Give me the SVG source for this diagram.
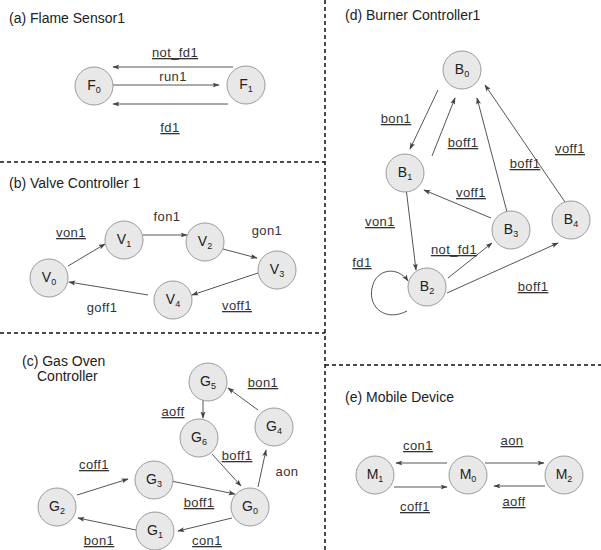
<svg xmlns="http://www.w3.org/2000/svg" width="601" height="550" viewBox="0 0 601 550">
<defs>
<style>
text{font-family:"Liberation Sans",Arial,sans-serif;fill:#222}
.title{font-size:14px}
.lbl{font-size:13px;text-anchor:middle;letter-spacing:0.4px;fill:#333}
.u{text-decoration:underline}
.nl{font-size:14px;text-anchor:middle}
.sub{font-size:9px}
.node circle{fill:#e8e8e8;stroke:#9a9a9a;stroke-width:1}
.e{stroke:#555;stroke-width:1;fill:none;marker-end:url(#ah)}
.div{stroke:#111;stroke-width:1.5;stroke-dasharray:4 3;fill:none}
</style>
<marker id="ah" viewBox="0 0 10 10" refX="9" refY="5" markerWidth="7" markerHeight="7" orient="auto" markerUnits="userSpaceOnUse">
<path d="M0,1.5 L10,5 L0,8.5 L2,5 Z" fill="#444"/>
</marker>
</defs>
<rect width="601" height="550" fill="#fff"/>

<g id="dividers">
<line class="div" x1="325" y1="0" x2="325" y2="550"/>
<line class="div" x1="0" y1="162" x2="325" y2="162"/>
<line class="div" x1="0" y1="333" x2="325" y2="333"/>
<line class="div" x1="325" y1="365" x2="601" y2="365"/>
</g>

<g id="titles">
<text class="title" x="9" y="23">(a) Flame Sensor1</text>
<text class="title" x="9" y="188">(b) Valve Controller 1</text>
<text class="title" x="22" y="366">(c) Gas Oven</text>
<text class="title" x="37" y="381">Controller</text>
<text class="title" x="345" y="20">(d) Burner Controller1</text>
<text class="title" x="345" y="402">(e) Mobile Device</text>
</g>

<g id="connectors">
<!-- (a) -->
<line class="e" x1="233" y1="67" x2="113" y2="67"/>
<line class="e" x1="113" y1="85" x2="219" y2="85"/>
<line class="e" x1="228" y1="104" x2="113" y2="104"/>
<!-- (b) -->
<line class="e" x1="68" y1="266" x2="105" y2="244"/>
<line class="e" x1="143" y1="235" x2="187" y2="235"/>
<line class="e" x1="223" y1="249" x2="257" y2="258"/>
<line class="e" x1="258" y1="273" x2="192" y2="295"/>
<line class="e" x1="148" y1="295" x2="69" y2="282"/>
<!-- (c) -->
<line class="e" x1="203" y1="399" x2="203" y2="418"/>
<line class="e" x1="258" y1="410" x2="228" y2="388"/>
<line class="e" x1="212" y1="454" x2="241" y2="486"/>
<line class="e" x1="258" y1="487" x2="266" y2="450"/>
<line class="e" x1="171" y1="481" x2="235" y2="494"/>
<line class="e" x1="77" y1="495" x2="128" y2="479"/>
<line class="e" x1="232" y1="518" x2="178" y2="531"/>
<line class="e" x1="136" y1="530" x2="78" y2="518"/>
<!-- (d) -->
<line class="e" x1="438" y1="90" x2="410" y2="149"/>
<line class="e" x1="432" y1="156" x2="455" y2="98"/>
<line class="e" x1="406" y1="188" x2="416" y2="270"/>
<line class="e" x1="491" y1="218" x2="424" y2="190"/>
<line class="e" x1="507" y1="212" x2="477" y2="98"/>
<line class="e" x1="567" y1="205" x2="485" y2="85"/>
<line class="e" x1="448" y1="278" x2="492" y2="243"/>
<line class="e" x1="447" y1="293" x2="558" y2="243"/>
<path class="e" d="M407,311 C386,322 368,308 372,288 C376,268 398,266 408,281"/>
<!-- (e) -->
<line class="e" x1="447" y1="463" x2="396" y2="463"/>
<line class="e" x1="394" y1="487" x2="447" y2="487"/>
<line class="e" x1="485" y1="463" x2="544" y2="463"/>
<line class="e" x1="545" y1="486" x2="494" y2="486"/>
</g>

<g id="edge-labels">
<text class="lbl u" x="175" y="57">not_fd1</text>
<text class="lbl" x="173" y="81">run1</text>
<text class="lbl u" x="170" y="132">fd1</text>

<text class="lbl u" x="71" y="237">von1</text>
<text class="lbl" x="167" y="221">fon1</text>
<text class="lbl" x="267" y="235">gon1</text>
<text class="lbl u" x="237" y="310">voff1</text>
<text class="lbl" x="102" y="312">goff1</text>

<text class="lbl u" x="263" y="387">bon1</text>
<text class="lbl u" x="173" y="416">aoff</text>
<text class="lbl u" x="237" y="460">boff1</text>
<text class="lbl" x="287" y="476">aon</text>
<text class="lbl u" x="94" y="469">coff1</text>
<text class="lbl u" x="199" y="507">boff1</text>
<text class="lbl u" x="99" y="545">bon1</text>
<text class="lbl u" x="207" y="545">con1</text>

<text class="lbl u" x="396" y="123">bon1</text>
<text class="lbl u" x="463" y="147">boff1</text>
<text class="lbl u" x="570" y="153">voff1</text>
<text class="lbl u" x="525" y="168">boff1</text>
<text class="lbl u" x="471" y="197">voff1</text>
<text class="lbl u" x="380" y="226">von1</text>
<text class="lbl u" x="454" y="254">not_fd1</text>
<text class="lbl u" x="362" y="267">fd1</text>
<text class="lbl u" x="533" y="291">boff1</text>

<text class="lbl u" x="418" y="450">con1</text>
<text class="lbl u" x="512" y="445">aon</text>
<text class="lbl u" x="415" y="511">coff1</text>
<text class="lbl u" x="514" y="506">aoff</text>
</g>

<g id="F0" class="node"><circle cx="94" cy="86" r="19"/><text class="nl" x="94" y="90">F<tspan class="sub" dy="3">0</tspan></text></g>
<g id="F1" class="node"><circle cx="246" cy="85" r="19"/><text class="nl" x="246" y="89">F<tspan class="sub" dy="3">1</tspan></text></g>

<g id="V0" class="node"><circle cx="49" cy="278" r="19"/><text class="nl" x="49" y="282">V<tspan class="sub" dy="3">0</tspan></text></g>
<g id="V1" class="node"><circle cx="124" cy="240" r="19"/><text class="nl" x="124" y="244">V<tspan class="sub" dy="3">1</tspan></text></g>
<g id="V2" class="node"><circle cx="205" cy="242" r="19"/><text class="nl" x="205" y="246">V<tspan class="sub" dy="3">2</tspan></text></g>
<g id="V3" class="node"><circle cx="277" cy="270" r="19"/><text class="nl" x="277" y="274">V<tspan class="sub" dy="3">3</tspan></text></g>
<g id="V4" class="node"><circle cx="173" cy="300" r="19"/><text class="nl" x="173" y="304">V<tspan class="sub" dy="3">4</tspan></text></g>

<g id="G0" class="node"><circle cx="250" cy="507" r="19"/><text class="nl" x="250" y="511">G<tspan class="sub" dy="3">0</tspan></text></g>
<g id="G1" class="node"><circle cx="155" cy="531" r="19"/><text class="nl" x="155" y="535">G<tspan class="sub" dy="3">1</tspan></text></g>
<g id="G2" class="node"><circle cx="57" cy="507" r="19"/><text class="nl" x="57" y="511">G<tspan class="sub" dy="3">2</tspan></text></g>
<g id="G3" class="node"><circle cx="154" cy="480" r="19"/><text class="nl" x="154" y="484">G<tspan class="sub" dy="3">3</tspan></text></g>
<g id="G4" class="node"><circle cx="274" cy="427" r="19"/><text class="nl" x="274" y="431">G<tspan class="sub" dy="3">4</tspan></text></g>
<g id="G5" class="node"><circle cx="208" cy="382" r="19"/><text class="nl" x="208" y="386">G<tspan class="sub" dy="3">5</tspan></text></g>
<g id="G6" class="node"><circle cx="199" cy="438" r="19"/><text class="nl" x="199" y="442">G<tspan class="sub" dy="3">6</tspan></text></g>

<g id="B0" class="node"><circle cx="462" cy="70" r="19"/><text class="nl" x="462" y="74">B<tspan class="sub" dy="3">0</tspan></text></g>
<g id="B1" class="node"><circle cx="405" cy="173" r="19"/><text class="nl" x="405" y="177">B<tspan class="sub" dy="3">1</tspan></text></g>
<g id="B2" class="node"><circle cx="427" cy="287" r="19"/><text class="nl" x="427" y="291">B<tspan class="sub" dy="3">2</tspan></text></g>
<g id="B3" class="node"><circle cx="511" cy="230" r="19"/><text class="nl" x="511" y="234">B<tspan class="sub" dy="3">3</tspan></text></g>
<g id="B4" class="node"><circle cx="571" cy="220" r="19"/><text class="nl" x="571" y="224">B<tspan class="sub" dy="3">4</tspan></text></g>

<g id="M0" class="node"><circle cx="468" cy="475" r="19"/><text class="nl" x="468" y="479">M<tspan class="sub" dy="3">0</tspan></text></g>
<g id="M1" class="node"><circle cx="375" cy="475" r="19"/><text class="nl" x="375" y="479">M<tspan class="sub" dy="3">1</tspan></text></g>
<g id="M2" class="node"><circle cx="564" cy="475" r="19"/><text class="nl" x="564" y="479">M<tspan class="sub" dy="3">2</tspan></text></g>
</svg>
